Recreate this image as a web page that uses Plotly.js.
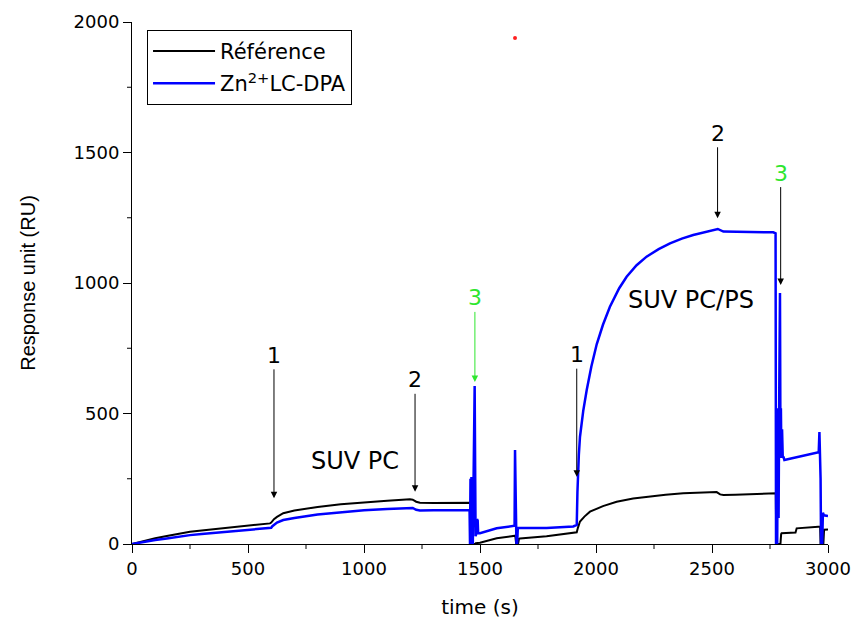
<!DOCTYPE html>
<html>
<head>
<meta charset="utf-8">
<script src="https://cdn.plot.ly/plotly-3.0.1.min.js"></script>
<style>html,body{margin:0;padding:0;background:#fff;}#chart{width:855px;height:619px;}</style>
</head>
<body>
<div id="chart"></div>
<script>
// Référence (black) sensorgram
const refTime = [0,25,50,100,150,200,250,300,400,500,595,600,605,612,625,652,700,800,900,1000,1100,1198,1210,1225,1241,1300,1400,1460,1462,1478,1482,1500,1572,1644,1652,1656,1664,1668,1672,1787,1902,1917,1922,1931,1950,1974,2030,2089,2160,2233,2300,2376,2450,2506,2520,2535,2549,2600,2664,2700,2775,2777,2795,2798,2800,2860,2865,2958,2966,2968,2980,2983,2994,3000];
const refRU   = [0,6,12,22,31,39,47,52,61,70,79,82,88,95,104,118,128,142,152,160,166,171,170,162,158,157,157,158,0,0,3,5,22,30,32,0,0,20,21,30,44,45,62,86,105,124,145,162,174,183,189,194,198,200,199,190,188,189,191,192,194,0,0,38,41,44,60,66,66,0,0,55,54,56];

// Zn2+ LC-DPA (blue) sensorgram
const znTime = [0,25,50,100,150,200,250,300,400,500,595,600,605,612,625,652,700,800,900,1000,1100,1198,1210,1225,1241,1300,1400,1455,1457,1459,1461,1463,1465,1467,1469,1471,1474,1477,1479,1481,1484,1487,1490,1492,1500,1572,1644,1649,1651,1653,1655,1657,1660,1663,1672,1787,1902,1914,1917,1920,1922,1926,1931,1945,1960,1980,2003,2030,2060,2100,2132,2175,2218,2270,2319,2370,2419,2470,2520,2525,2549,2600,2700,2764,2774,2776,2779,2781,2784,2787,2790,2793,2795,2797,2799,2802,2805,2808,2812,2850,2900,2960,2963,2966,2968,2970,2975,2978,2982,3000];
const znRU   = [0,4,8,15,21,28,34,38,46,53,60,62,68,74,82,92,100,113,122,129,134,139,138,131,128,129,129,130,0,250,0,257,80,240,0,200,400,605,300,30,40,95,90,42,41,60,68,70,360,210,200,0,0,62,61,61,67,72,73,200,272,340,411,510,590,680,765,840,909,980,1024,1068,1101,1130,1152,1170,1184,1195,1205,1207,1197,1196,1195,1194,1190,0,150,0,520,100,600,962,400,520,330,440,330,335,322,330,342,352,429,300,250,0,0,120,110,107];

// stray red dot in the original figure
const dotTime = [1651];
const dotRU = [1939];

const seriesNames = ['Référence', 'Zn<sup>2+</sup>LC-DPA'];
const xRange = [0, 3000], yRange = [0, 2000];
const xTickStep = 500, yTickStep = 500;
const xMinorTicks = [250, 750, 1250, 1750, 2250, 2750];
const yMinorTicks = [250, 750, 1250, 1750];

const FONT = 'DejaVu Sans, Liberation Sans, Arial, sans-serif';
const GREEN = '#2ee62e';

const W = 855, H = 619;
const M = {l: 132, r: 27, t: 22, b: 75, pad: 0};
const plotW = W - M.l - M.r, plotH = H - M.t - M.b;
const MINOR_LEN = 5;

const traces = [
  {x: refTime, y: refRU, type: 'scatter', mode: 'lines', name: seriesNames[0],
   line: {color: '#000000', width: 2}, legendgroup: 'a'},
  {x: znTime, y: znRU, type: 'scatter', mode: 'lines', name: seriesNames[1],
   line: {color: '#0000ff', width: 2.5}, legendgroup: 'b'},
  {x: dotTime, y: dotRU, type: 'scatter', mode: 'markers', showlegend: false,
   marker: {color: '#ff2020', size: 4}, hoverinfo: 'skip'}
];

function arrowNote(x, y, text, ay, textColor, arrowColor) {
  return {x: x, y: y, xref: 'x', yref: 'y', text: text, showarrow: true,
    ax: 0, ay: ay, arrowhead: 2, arrowsize: 1.3, arrowwidth: 1,
    arrowcolor: arrowColor, font: {family: FONT, size: 22, color: textColor}};
}

// minor tick marks (axis decorations), converted from axis values to paper fractions
const toPaperX = v => (v - xRange[0]) / (xRange[1] - xRange[0]);
const toPaperY = v => (v - yRange[0]) / (yRange[1] - yRange[0]);
const minorShapes = [
  ...xMinorTicks.map(v => ({type: 'line', xref: 'paper', yref: 'paper',
    x0: toPaperX(v), x1: toPaperX(v), y0: 0, y1: -MINOR_LEN / plotH,
    line: {color: '#000', width: 1}})),
  ...yMinorTicks.map(v => ({type: 'line', xref: 'paper', yref: 'paper',
    y0: toPaperY(v), y1: toPaperY(v), x0: 0, x1: -MINOR_LEN / plotW,
    line: {color: '#000', width: 1}}))
];

const layout = {
  width: W, height: H,
  margin: M,
  paper_bgcolor: '#ffffff', plot_bgcolor: '#ffffff',
  font: {family: FONT, color: '#000'},
  showlegend: true,
  legend: {x: 0.0216, y: 0.985, xanchor: 'left', yanchor: 'top',
    bordercolor: '#000', borderwidth: 1, bgcolor: '#fff',
    font: {family: FONT, size: 21, color: '#000'},
    traceorder: 'grouped', tracegroupgap: 2, itemwidth: 62},
  xaxis: {range: xRange, showgrid: false, zeroline: false,
    showline: true, linecolor: '#000', linewidth: 1,
    ticks: 'outside', ticklen: 8, tickwidth: 1, tickcolor: '#000',
    tickmode: 'linear', tick0: 0, dtick: xTickStep,
    tickfont: {family: FONT, size: 18, color: '#000'},
    title: {text: 'time (s)', font: {family: FONT, size: 20, color: '#000'}, standoff: 22}},
  yaxis: {range: yRange, showgrid: false, zeroline: false,
    showline: true, linecolor: '#000', linewidth: 1,
    ticks: 'outside', ticklen: 8, tickwidth: 1, tickcolor: '#000',
    tickmode: 'linear', tick0: 0, dtick: yTickStep,
    tickfont: {family: FONT, size: 18, color: '#000'},
    title: {text: 'Response unit (RU)', font: {family: 'Liberation Sans, Arial, sans-serif', size: 20, color: '#000'}, standoff: 32}},
  shapes: minorShapes,
  annotations: [
    arrowNote(612, 175, '1', -143, '#000', '#000'),
    arrowNote(1220, 200, '2', -112, '#000', '#000'),
    arrowNote(1478, 621, '3', -84, GREEN, GREEN),
    arrowNote(1917, 258, '1', -122, '#000', '#000'),
    arrowNote(2524, 1248, '2', -85, '#000', '#000'),
    arrowNote(2796, 992, '3', -112, GREEN, '#000'),
    {x: 961, y: 318, xref: 'x', yref: 'y', text: 'SUV PC', showarrow: false,
     font: {family: FONT, size: 24, color: '#000'}},
    {x: 2409, y: 935, xref: 'x', yref: 'y', text: 'SUV PC/PS', showarrow: false,
     font: {family: FONT, size: 24, color: '#000'}}
  ]
};

Plotly.newPlot('chart', traces, layout, {displayModeBar: false, staticPlot: true});
</script>
</body>
</html>
